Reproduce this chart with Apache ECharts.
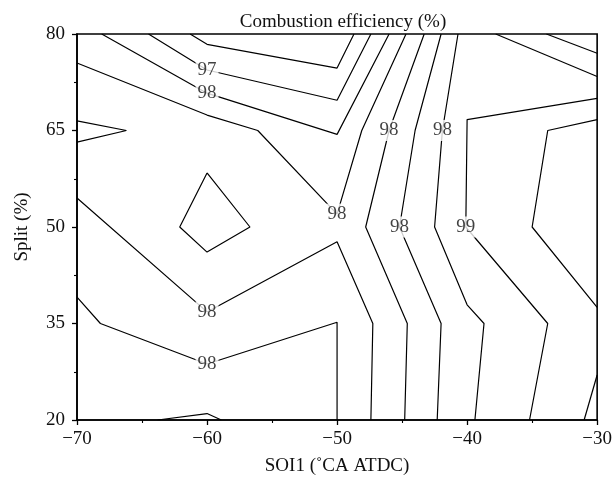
<!DOCTYPE html>
<html>
<head>
<meta charset="utf-8">
<script src="https://cdn.jsdelivr.net/npm/echarts@6/dist/echarts.min.js"></script>
<style>
  html, body { margin: 0; padding: 0; background: #fff; }
  #chart { width: 615px; height: 485px; }
</style>
</head>
<body>
<div id="chart"></div>
<script>
// Axis ticks
const xTicks = [-70, -60, -50, -40, -30];
const yTicks = [20, 35, 50, 65, 80];

// Contour polylines of combustion efficiency, points are [SOI1, split]
const c1  = [[-61.3, 80], [-60, 78.4], [-50, 74.7], [-48.7, 80]];
const c2  = [[-64.5, 80], [-60, 74.4], [-50, 69.7], [-47.4, 80]];
const c3  = [[-68.1, 80], [-60, 70.8], [-50, 64.4], [-46.0, 80]];
const c4  = [[-70, 75.5], [-60, 67.4], [-56.1, 65], [-50, 52.0], [-48.1, 65], [-44.7, 80]];
const c5  = [[-70, 66.5], [-66.2, 65], [-70, 63.2]];
const c6  = [[-60, 58.4], [-56.7, 50], [-60, 46.1], [-62.1, 50], [-60, 58.4]];
const c7  = [[-70, 54.5], [-60, 36.8], [-50, 47.7], [-47.25, 35], [-47.4, 20]];
const c8  = [[-70, 39.1], [-68.2, 35], [-60, 28.7], [-50, 35.2], [-50, 20]];
const c9  = [[-63.8, 20], [-60, 21.0], [-58.9, 20]];
const c10 = [[-43.3, 80], [-46.0, 65], [-47.8, 50], [-44.6, 35], [-44.8, 20]];
const c11 = [[-42.0, 80], [-44.0, 65], [-45.2, 50], [-42.0, 35], [-42.3, 20]];
const c12 = [[-40.7, 80], [-41.9, 65], [-42.5, 50], [-40, 37.9], [-38.7, 35], [-39.4, 20]];
const c13 = [[-30, 70.0], [-40, 66.7], [-40.1, 50], [-33.8, 35], [-35.2, 20]];
const c14 = [[-30, 66.7], [-33.8, 65], [-35.0, 50], [-30, 37.5]];
const c15 = [[-30, 27.0], [-31.0, 20]];
const c16 = [[-37.8, 80], [-30, 73.4]];
const c17 = [[-33.9, 80], [-30, 77.0]];

const allLines = [c1, c2, c3, c4, c5, c6, c7, c8, c9, c10, c11, c12, c13, c14, c15, c16, c17];

// Inline level labels: which line, its level, and the vertex where it is written
const labelLines  = [c2, c3, c4, c7, c8, c10, c11, c12, c13];
const labelLevels = [97, 98, 98, 98, 98, 98, 98, 98, 99];
const labelVertex = [1, 1, 3, 1, 2, 1, 2, 1, 2];

const FONT = '"Liberation Serif", "DejaVu Serif", serif';
const minus = v => String(v).replace('-', '\u2212');

const lineSeries = allLines.map(pts => ({
  type: 'line',
  data: pts,
  showSymbol: false,
  symbol: 'none',
  lineStyle: { color: '#000', width: 1.2 },
  z: 2,
  silent: true,
  animation: false
}));

const labelSeries = {
  type: 'scatter',
  data: labelLines.map((l, i) => [l[labelVertex[i]][0], l[labelVertex[i]][1], labelLevels[i]]),
  symbolSize: 0,
  z: 5,
  animation: false,
  label: {
    show: true,
    position: 'inside',
    formatter: p => String(p.value[2]),
    fontFamily: FONT,
    fontSize: 19,
    color: '#111',
    backgroundColor: '#fff',
    padding: [1, 2]
  }
};

const axisCommon = {
  axisLine: { show: true, lineStyle: { color: '#000', width: 1.6 } },
  axisTick: { show: true, inside: false, length: 5, lineStyle: { color: '#000', width: 1.3 } },
  minorTick: { show: true, splitNumber: 2, length: 3, lineStyle: { color: '#000', width: 1.1 } },
  splitLine: { show: false },
  axisLabel: { fontFamily: FONT, fontSize: 19, color: '#111', formatter: minus },
  nameTextStyle: { fontFamily: FONT, fontSize: 19, color: '#111' },
  nameLocation: 'middle'
};

const chart = echarts.init(document.getElementById('chart'), null, { renderer: 'canvas' });
chart.setOption({
  animation: false,
  backgroundColor: '#fff',
  title: {
    text: 'Combustion efficiency (%)',
    left: 338,
    top: 8,
    textAlign: 'center',
    textStyle: { fontFamily: FONT, fontSize: 19, fontWeight: 'normal', color: '#111' }
  },
  grid: {
    left: 77, right: 17, top: 34, bottom: 65,
    show: true, borderColor: '#000', borderWidth: 1.6, backgroundColor: 'transparent'
  },
  xAxis: Object.assign({}, axisCommon, {
    type: 'value',
    min: xTicks[0], max: xTicks[xTicks.length - 1], interval: 10,
    name: 'SOI1 (\u02DACA ATDC)',
    nameGap: 37,
    axisLabel: Object.assign({}, axisCommon.axisLabel, { margin: 10 })
  }),
  yAxis: Object.assign({}, axisCommon, {
    type: 'value',
    min: yTicks[0], max: yTicks[yTicks.length - 1], interval: 15,
    name: 'Split (%)',
    nameGap: 45,
    axisLabel: Object.assign({}, axisCommon.axisLabel, { margin: 12 })
  }),
  series: lineSeries.concat([labelSeries])
});
</script>
</body>
</html>
